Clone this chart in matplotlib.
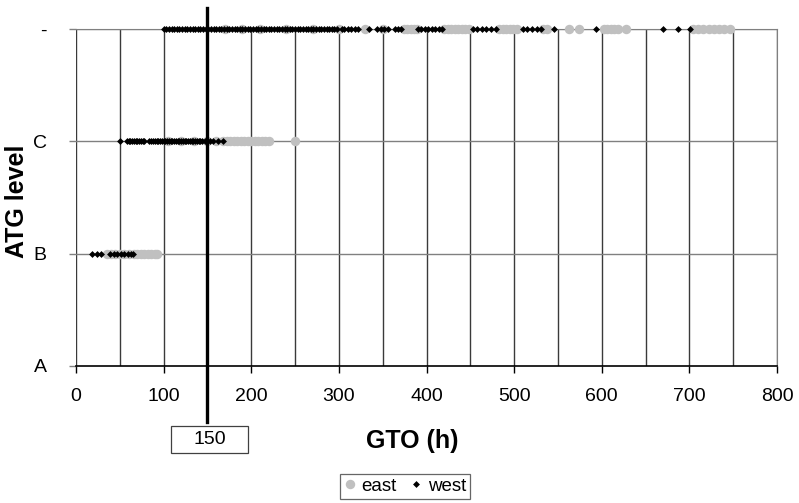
import matplotlib
matplotlib.use("Agg")
import matplotlib.pyplot as plt
import matplotlib.transforms as mtransforms
from matplotlib.patches import Rectangle

plt.rcParams['font.family'] = ['Liberation Sans', 'DejaVu Sans']

# ATG levels on the y axis
levels = ['A', 'B', 'C', '-']

# GTO (h) values per group and ATG level
east_B = [35, 40, 45, 50, 55, 60, 66, 70, 74, 78, 82, 86, 90, 93]
east_C = [105, 120, 135, 150, 160, 168, 172, 176, 180, 184, 188, 192, 196,
          200, 204, 208, 212, 216, 220, 250]
east_dash = [170, 190, 210, 240, 270, 300, 330, 350, 374, 378, 382, 386, 389,
             420, 424, 428, 432, 436, 440, 444, 448, 483, 487, 491, 495, 499,
             503, 533, 538, 563, 574, 602, 606, 610, 614, 618, 628, 704, 710,
             716, 722, 728, 734, 740, 746]

west_B = [18, 24, 29, 39, 43, 47, 51, 55, 59, 63, 65]
west_C = [50, 58, 60, 62, 64, 66, 68, 70, 72, 74, 76, 78, 83, 86, 88, 90, 92,
          94, 96, 98, 100, 102, 104, 106, 108, 110, 112, 114, 116, 118, 120,
          122, 124, 126, 128, 130, 132, 134, 136, 138, 140, 142, 144, 147,
          150, 153, 156, 162, 168]
west_dash = [100, 103, 106, 109, 112, 115, 118, 121, 124, 127, 130, 133, 136,
             139, 142, 145, 148, 151, 154, 157, 160, 163, 166, 169, 172, 175,
             178, 181, 184, 187, 190, 193, 196, 199, 202, 205, 208, 211, 214,
             217, 220, 223, 226, 229, 232, 235, 238, 241, 244, 247, 250, 253,
             256, 259, 262, 265, 268, 271, 274, 277, 280, 283, 286, 289, 292,
             295, 298, 303, 306, 310, 314, 318, 322, 334, 344, 348, 352, 356,
             364, 367, 371, 390, 394, 398, 402, 406, 410, 414, 418, 453, 458,
             463, 468, 474, 479, 510, 515, 520, 526, 531, 545, 594, 670, 687,
             701]

threshold = 150

W, H = 799, 503
fig = plt.figure(figsize=(W / 100, H / 100), dpi=100)
ax = fig.add_axes([76 / W, (H - 366) / H, 701 / W, 337 / H])


def pts(groups):
    xs, ys = [], []
    for lvl, vals in groups:
        xs += vals
        ys += [levels.index(lvl)] * len(vals)
    return xs, ys


ex, ey = pts([('B', east_B), ('C', east_C), ('-', east_dash)])
wx, wy = pts([('B', west_B), ('C', west_C), ('-', west_dash)])

ax.plot(ex, ey, linestyle='none', marker='o', markersize=6.8,
        color='#c0c0c0', markeredgewidth=0, label='east', clip_on=False, zorder=3)
ax.plot(wx, wy, linestyle='none', marker='D', markersize=3.5,
        color='black', markeredgewidth=0, label='west', clip_on=False, zorder=4)

ax.set_xlim(0, 800)
ax.set_ylim(0, 3)
ax.set_xticks(range(0, 801, 100))
ax.set_xticks(range(0, 801, 50), minor=True)
ax.set_yticks(range(4))
ax.set_yticklabels(levels)

# Grid: vertical every 50 h, horizontal at each level
for xv in range(0, 801, 50):
    ax.axvline(xv, color='#3a3a3a', linewidth=1.0, zorder=1)
for yv in range(1, 4):
    ax.axhline(yv, color='#808080', linewidth=1.0, zorder=1)

for side in ('top', 'right'):
    ax.spines[side].set_color('#808080')
ax.spines['left'].set_visible(False)
ax.spines['bottom'].set_color('black')
ax.spines['bottom'].set_linewidth(1.2)

ax.tick_params(axis='x', which='major', length=5, width=1, pad=11, labelsize=14)
ax.tick_params(axis='x', which='minor', length=0)
ax.tick_params(axis='y', length=5, width=1, color='#808080', pad=16, labelsize=14)

ax.set_xlabel('GTO (h)', fontsize=18, fontweight='bold', va='center')
ax.xaxis.set_label_coords((412 - 76) / 701, (366 - 441) / 337)
ax.set_ylabel('ATG level', fontsize=18, fontweight='bold', va='center')
ax.yaxis.set_label_coords((17 - 76) / 701, 0.49)

# Threshold marker line extending past the plot area
trans = mtransforms.blended_transform_factory(ax.transData, ax.transAxes)
ax.plot([threshold, threshold], [1.062, -0.166], color='black', linewidth=2.4,
        transform=trans, clip_on=False, zorder=5)

# Boxed threshold label below the axis
fig.patches.append(Rectangle((171 / W, 1 - 453 / H), 77 / W, 27 / H,
                             transform=fig.transFigure, facecolor='white',
                             edgecolor='#404040', linewidth=0.9))
fig.text(209.5 / W, 1 - 440 / H, str(threshold), ha='center', va='center',
         fontsize=14)

leg = fig.legend(loc='upper center', bbox_to_anchor=(405 / W, 1 - 474 / H),
                 ncol=2, frameon=True, fancybox=False, edgecolor='#404040',
                 fontsize=13.5, handlelength=0.6, handletextpad=0.35,
                 columnspacing=0.7, borderpad=0.2, borderaxespad=0)
leg.get_frame().set_linewidth(0.9)

fig.savefig('out.png', dpi=100)
